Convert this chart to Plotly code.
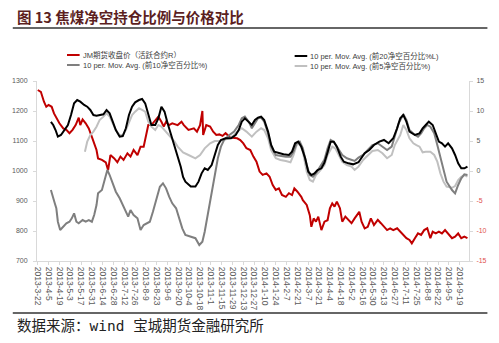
import plotly.graph_objects as go

# ---------------- data ----------------
price_dates = ["2013-03-22","2013-03-26","2013-03-30","2013-04-02","2013-04-05","2013-04-09","2013-04-12","2013-04-15",
"2013-04-19","2013-04-24","2013-04-28","2013-05-02","2013-05-06","2013-05-10","2013-05-14","2013-05-16","2013-05-19",
"2013-05-23","2013-05-27","2013-05-31","2013-06-03","2013-06-06","2013-06-08","2013-06-13","2013-06-18","2013-06-21",
"2013-06-24","2013-06-29","2013-07-03","2013-07-07","2013-07-11","2013-07-16","2013-07-20","2013-07-24","2013-07-29",
"2013-08-02","2013-08-06","2013-08-09","2013-08-12","2013-08-16","2013-08-21","2013-08-25","2013-08-29","2013-09-01",
"2013-09-04","2013-09-08","2013-09-12","2013-09-19","2013-09-24","2013-09-27","2013-10-03","2013-10-10","2013-10-14",
"2013-10-18","2013-10-21","2013-10-22","2013-10-26","2013-10-31","2013-11-04","2013-11-08","2013-11-12","2013-11-16",
"2013-11-20","2013-11-25","2013-11-29","2013-12-05","2013-12-09","2013-12-13","2013-12-17","2013-12-22","2013-12-26",
"2013-12-30","2014-01-03","2014-01-07","2014-01-12","2014-01-16","2014-01-20","2014-01-24","2014-01-28","2014-02-01",
"2014-02-06","2014-02-10","2014-02-14","2014-02-17","2014-02-21","2014-02-26","2014-02-28","2014-03-05","2014-03-09",
"2014-03-11","2014-03-14","2014-03-17","2014-03-20","2014-03-24","2014-03-28","2014-04-01","2014-04-04","2014-04-07",
"2014-04-10","2014-04-13","2014-04-17","2014-04-20","2014-04-24","2014-04-28","2014-05-02","2014-05-06","2014-05-12",
"2014-05-15","2014-05-19","2014-05-23","2014-05-27","2014-05-31","2014-06-05","2014-06-09","2014-06-13","2014-06-17",
"2014-06-21","2014-06-25","2014-06-30","2014-07-04","2014-07-08","2014-07-12","2014-07-16","2014-07-19","2014-07-23",
"2014-07-27","2014-07-31","2014-08-04","2014-08-08","2014-08-12","2014-08-15","2014-08-19","2014-08-23","2014-08-27",
"2014-08-31","2014-09-04","2014-09-09","2014-09-13","2014-09-17","2014-09-21","2014-09-25","2014-09-29"]
price = [1270,1264,1231,1214,1220,1214,1192,1176,1159,1142,1137,1126,1137,1153,1178,1153,1172,1159,1142,1114,1092,1070,
1042,1037,1029,1003,1053,1042,1029,1048,1037,1059,1048,1070,1053,1081,1081,1120,1153,1153,1170,1181,1164,1148,1164,1153,
1159,1153,1164,1153,1137,1142,1131,1153,1200,1120,1153,1148,1131,1120,1122,1117,1126,1114,1111,1109,1103,1092,1076,1070,
1048,1031,998,987,992,981,953,937,942,920,914,926,920,942,931,914,903,887,853,814,842,831,848,803,831,836,876,892,881,898,
876,831,848,837,826,842,864,831,809,814,842,820,837,826,814,803,809,803,809,798,787,776,770,759,776,792,787,803,809,776,
798,792,798,792,803,792,776,781,792,776,781,776]

top20_dates = ["2013-04-08","2013-04-11","2013-04-14","2013-04-17","2013-04-21","2013-04-26","2013-04-30","2013-05-04",
"2013-05-08","2013-05-12","2013-05-16","2013-05-21","2013-05-25","2013-05-29","2013-06-02","2013-06-06","2013-06-10",
"2013-06-15","2013-06-19","2013-06-23","2013-06-27","2013-07-01","2013-07-06","2013-07-10","2013-07-14","2013-07-18",
"2013-07-22","2013-07-26","2013-07-31","2013-08-04","2013-08-08","2013-08-12","2013-08-16","2013-08-21","2013-08-25",
"2013-08-29","2013-09-02","2013-09-06","2013-09-10","2013-09-15","2013-09-19","2013-09-23","2013-09-26","2013-09-29",
"2013-10-06","2013-10-12","2013-10-16","2013-10-20","2013-10-24","2013-10-28","2013-11-02","2013-11-06","2013-11-10",
"2013-11-14","2013-11-20","2013-11-27","2013-12-03","2013-12-07","2013-12-11","2013-12-15","2013-12-20","2013-12-24",
"2013-12-28","2014-01-01","2014-01-05","2014-01-09","2014-01-14","2014-01-18","2014-01-22","2014-01-28","2014-02-03",
"2014-02-10","2014-02-14","2014-02-18","2014-02-22","2014-02-26","2014-03-03","2014-03-07","2014-03-11","2014-03-15",
"2014-03-19","2014-03-24","2014-03-28","2014-04-01","2014-04-05","2014-04-09","2014-04-13","2014-04-18","2014-04-22",
"2014-04-28","2014-05-04","2014-05-11","2014-05-15","2014-05-19","2014-05-25","2014-05-31","2014-06-07","2014-06-13",
"2014-06-19","2014-06-25","2014-06-30","2014-07-04","2014-07-08","2014-07-12","2014-07-16","2014-07-23","2014-07-29",
"2014-08-02","2014-08-06","2014-08-10","2014-08-15","2014-08-19","2014-08-23","2014-08-27","2014-08-31","2014-09-04",
"2014-09-09","2014-09-13","2014-09-17","2014-09-21","2014-09-25","2014-09-29"]
top20 = [8.2,7.67,6.83,5.72,6.0,6.83,7.67,9.33,11.28,11.83,11.55,11.0,10.72,10.17,9.33,9.22,9.33,9.45,10.17,9.62,8.22,
6.83,5.72,5.83,7.12,9.33,10.72,11.45,11.83,12.0,11.28,9.33,7.67,7.67,8.78,10.72,9.9,7.95,6.28,4.33,2.67,0.72,-1.0,-1.78,
-2.6,-2.6,-1.78,-0.39,0.45,0.17,1.0,2.67,4.33,5.17,5.45,5.45,6.0,6.83,8.22,8.78,8.22,7.67,8.5,8.89,9.06,8.5,6.56,4.33,
3.22,2.95,2.78,2.67,3.22,4.62,4.89,4.06,2.12,-0.12,-0.67,-0.39,0.17,0.45,1.4,3.1,4.89,4.89,4.06,2.39,1.55,1.28,1.11,1.45,
2.12,2.95,3.5,4.33,4.89,5.17,4.62,5.45,7.12,8.78,9.33,8.22,6.56,6.0,6.28,7.12,7.67,8.22,7.67,6.28,4.89,4.62,4.06,4.62,
3.78,2.67,1.28,0.45,0.45,0.72]

top10_dates = ["2013-04-08","2013-04-10","2013-04-13","2013-04-15","2013-04-17","2013-04-20","2013-04-24","2013-04-28",
"2013-05-02","2013-05-05","2013-05-08","2013-05-11","2013-05-14","2013-05-19","2013-05-23","2013-05-27","2013-05-31",
"2013-06-03","2013-06-06","2013-06-08","2013-06-13","2013-06-17","2013-06-20","2013-06-23","2013-06-27","2013-07-01",
"2013-07-06","2013-07-10","2013-07-14","2013-07-17","2013-07-20","2013-07-24","2013-07-29","2013-08-02","2013-08-06",
"2013-08-10","2013-08-14","2013-08-18","2013-08-23","2013-08-27","2013-08-31","2013-09-04","2013-09-08","2013-09-12",
"2013-09-17","2013-09-21","2013-09-25","2013-09-29","2013-10-06","2013-10-12","2013-10-17","2013-10-21","2013-10-24",
"2013-10-28","2013-11-02","2013-11-06","2013-11-10","2013-11-14","2013-11-18","2013-11-25","2013-12-01","2013-12-07",
"2013-12-11","2013-12-15","2013-12-20","2013-12-24","2013-12-28","2014-01-01","2014-01-05","2014-01-09","2014-01-14",
"2014-01-18","2014-01-24","2014-01-30","2014-02-06","2014-02-12","2014-02-16","2014-02-20","2014-02-24","2014-02-28",
"2014-03-05","2014-03-09","2014-03-13","2014-03-17","2014-03-21","2014-03-28","2014-04-01","2014-04-05","2014-04-09",
"2014-04-13","2014-04-20","2014-04-26","2014-05-02","2014-05-06","2014-05-11","2014-05-17","2014-05-23","2014-05-29",
"2014-06-05","2014-06-11","2014-06-17","2014-06-23","2014-06-27","2014-07-02","2014-07-08","2014-07-12","2014-07-16",
"2014-07-23","2014-07-27","2014-07-31","2014-08-04","2014-08-08","2014-08-12","2014-08-17","2014-08-21","2014-08-25",
"2014-08-29","2014-09-02","2014-09-09","2014-09-13","2014-09-17","2014-09-21","2014-09-25","2014-09-29"]
top10 = [-3.17,-4.28,-5.39,-6.22,-8.45,-9.83,-9.28,-8.72,-8.45,-7.89,-7.06,-8.45,-8.72,-8.17,-8.45,-8.17,-8.45,-7.33,
-5.67,-3.72,-3.17,-1.22,0.17,-0.67,-2.05,-3.45,-4.55,-5.67,-6.78,-7.61,-6.5,-7.33,-7.89,-9.83,-9.0,-8.72,-8.45,-6.78,
-4.55,-2.62,-2.05,-2.89,-4.28,-5.39,-6.22,-7.89,-9.55,-10.67,-10.95,-11.2,-12.33,-11.78,-10.12,-7.33,-4.0,-1.22,2.12,
4.06,5.17,6.0,6.56,7.67,8.78,9.06,8.22,7.12,7.95,8.78,8.89,8.22,6.28,4.06,2.67,2.5,2.39,2.39,3.22,4.62,4.89,3.78,1.0,
-0.67,-0.95,-0.39,0.45,1.9,3.8,5.17,4.89,4.06,2.67,2.12,1.83,1.67,2.22,2.67,3.5,4.33,4.62,4.06,3.5,4.06,5.72,7.95,9.45,
8.5,6.83,6.0,5.72,6.28,7.12,7.67,7.39,6.28,4.33,2.12,-0.12,-1.78,-3.17,-3.72,-2.33,-1.22,-0.55,-0.67]

top5_dates = ["2013-05-22","2013-05-25","2013-05-29","2013-06-02","2013-06-06","2013-06-10","2013-06-15","2013-06-19",
"2013-06-23","2013-06-27","2013-07-01","2013-07-06","2013-07-10","2013-07-14","2013-07-18","2013-07-22","2013-07-26",
"2013-07-31","2013-08-04","2013-08-08","2013-08-12","2013-08-16","2013-08-21","2013-08-25","2013-08-29","2013-09-02",
"2013-09-06","2013-09-10","2013-09-15","2013-09-19","2013-09-23","2013-09-26","2013-10-03","2013-10-12","2013-10-18",
"2013-10-24","2013-10-31","2013-11-06","2013-11-12","2013-11-18","2013-11-25","2013-12-01","2013-12-05","2013-12-11",
"2013-12-17","2013-12-24","2013-12-30","2014-01-05","2014-01-09","2014-01-14","2014-01-18","2014-01-24","2014-01-30",
"2014-02-06","2014-02-12","2014-02-16","2014-02-20","2014-02-24","2014-02-28","2014-03-05","2014-03-09","2014-03-13",
"2014-03-17","2014-03-21","2014-03-28","2014-04-01","2014-04-07","2014-04-11","2014-04-15","2014-04-20","2014-04-26",
"2014-05-02","2014-05-06","2014-05-11","2014-05-17","2014-05-23","2014-05-29","2014-06-05","2014-06-11","2014-06-17",
"2014-06-23","2014-06-27","2014-07-04","2014-07-08","2014-07-12","2014-07-16","2014-07-21","2014-07-25","2014-07-29",
"2014-08-02","2014-08-06","2014-08-12","2014-08-17","2014-08-21","2014-08-25","2014-08-29","2014-09-02","2014-09-09",
"2014-09-13","2014-09-17","2014-09-21","2014-09-25","2014-09-29"]
top5 = [3.22,4.89,6.0,6.56,7.39,8.5,9.06,9.62,9.06,7.95,6.83,6.0,6.0,6.83,8.22,9.33,9.89,10.45,10.17,9.89,8.22,7.39,6.83,
7.67,7.39,6.83,6.28,5.72,4.89,4.06,3.5,3.1,2.67,2.12,2.67,3.78,4.62,5.0,5.0,5.17,5.45,6.0,6.56,7.12,6.56,5.72,6.56,7.12,
6.83,5.45,3.5,2.12,1.83,1.67,1.45,2.67,4.33,4.62,3.22,-0.12,-1.5,-1.78,-0.67,-0.12,1.0,2.67,4.06,3.78,2.67,1.55,1.0,0.72,
0.17,0.72,1.83,2.67,3.33,3.5,2.95,2.12,2.67,4.33,6.0,7.67,6.83,5.45,4.62,4.33,4.06,3.11,3.22,3.22,2.67,1.55,-0.39,-1.78,
-2.6,-2.8,-2.5,-1.5,-0.95,-0.67,-0.95]

left_ticks = [700, 800, 900, 1000, 1100, 1200, 1300]
right_ticks = [-15, -10, -5, 0, 5, 10, 15]

names = ["JM期货收盘价（活跃合约R）", "10 per. Mov. Avg. (前10净空百分比%)",
         "10 per. Mov. Avg. (前20净空百分比%L)", "10 per. Mov. Avg. (前5净空百分比%)"]

RED = "#c00000"
MID = "#7f7f7f"
LIGHT = "#c0c0c0"
BLACK = "#000000"
TICKC = "#595959"
NEGC = "#e05050"
FONT = "Liberation Sans, Noto Sans CJK SC, sans-serif"

fig = go.Figure()
fig.add_trace(go.Scatter(x=top5_dates, y=top5, yaxis="y2", mode="lines",
                         line=dict(color=LIGHT, width=2), name=names[3]))
fig.add_trace(go.Scatter(x=top10_dates, y=top10, yaxis="y2", mode="lines",
                         line=dict(color=MID, width=2), name=names[1]))
fig.add_trace(go.Scatter(x=price_dates, y=price, yaxis="y", mode="lines",
                         line=dict(color=RED, width=2), name=names[0]))
fig.add_trace(go.Scatter(x=top20_dates, y=top20, yaxis="y2", mode="lines",
                         line=dict(color=BLACK, width=2), name=names[2]))

W, H = 499, 343
L, R, T, B = 29, 24, 81, 82
pw, ph = W - L - R, H - T - B

def px(x):
    return (x - L) / pw

def py(y):
    return (H - B - y) / ph

right_text = []
for v in right_ticks:
    if v < 0:
        right_text.append(f"<span style='color:{NEGC}'>{v}</span>")
    else:
        right_text.append(str(v))

fig.update_layout(
    width=W, height=H,
    margin=dict(l=L, r=R, t=T, b=B, pad=0),
    paper_bgcolor="white", plot_bgcolor="white",
    showlegend=False,
    font=dict(family=FONT, size=7, color=TICKC),
    xaxis=dict(type="date", range=["2013-03-21", "2014-10-01"],
               tick0="2013-03-22", dtick=14 * 86400000, tickformat="%Y-%-m-%-d",
               tickangle=90, ticks="outside", ticklen=3, tickcolor="#d9d9d9",
               showline=True, linecolor="#d9d9d9", linewidth=1, showgrid=False,
               zeroline=False, tickfont=dict(size=8.5, color=TICKC)),
    yaxis=dict(range=[700, 1300], tickvals=left_ticks, showgrid=False, zeroline=False,
               showline=True, linecolor="#d9d9d9", ticks="outside", ticklen=3,
               tickcolor="#d9d9d9", ticklabelstandoff=4, tickfont=dict(size=7, color=TICKC)),
    yaxis2=dict(range=[-15, 15], tickvals=right_ticks, ticktext=right_text,
                overlaying="y", side="right", showgrid=False, zeroline=False,
                showline=True, linecolor="#d9d9d9", ticks="outside", ticklen=3,
                tickcolor="#d9d9d9", ticklabelstandoff=2, tickfont=dict(size=7, color=TICKC)),
)

shapes = [
    dict(type="line", xref="paper", yref="paper", x0=px(4), x1=px(494), y0=py(28), y1=py(28),
         line=dict(color="#333333", width=1.5)),
    dict(type="line", xref="paper", yref="paper", x0=px(4), x1=px(494), y0=py(313), y1=py(313),
         line=dict(color="#333333", width=1.5)),
]
legend_items = [
    (60, 55, RED, names[0]),
    (60, 65, MID, names[1]),
    (295, 56, BLACK, names[2]),
    (295, 66, LIGHT, names[3]),
]
annotations = []
for lx, ly, col, txt in legend_items:
    shapes.append(dict(type="line", xref="paper", yref="paper", x0=px(lx), x1=px(lx + 13),
                       y0=py(ly), y1=py(ly), line=dict(color=col, width=2)))
    annotations.append(dict(xref="paper", yref="paper", x=px(lx + 14), y=py(ly), xanchor="left",
                            yanchor="middle", showarrow=False, text=txt,
                            font=dict(size=7.5, color="#404040", family=FONT)))

annotations.append(dict(xref="paper", yref="paper", x=px(6), y=py(17), xanchor="left", yanchor="middle",
                        showarrow=False, text="<b>图 13 焦煤净空持仓比例与价格对比</b>",
                        font=dict(size=14.5, color="#5c1f1f", family="Noto Sans CJK SC, sans-serif")))
annotations.append(dict(xref="paper", yref="paper", x=px(6), y=py(326), xanchor="left", yanchor="middle",
                        showarrow=False, text="数据来源：wind 宝城期货金融研究所",
                        font=dict(size=14.5, color="#222222",
                                  family="DejaVu Sans Mono, Noto Sans CJK SC, monospace")))

fig.update_layout(shapes=shapes, annotations=annotations)
fig.write_html("out.html")
